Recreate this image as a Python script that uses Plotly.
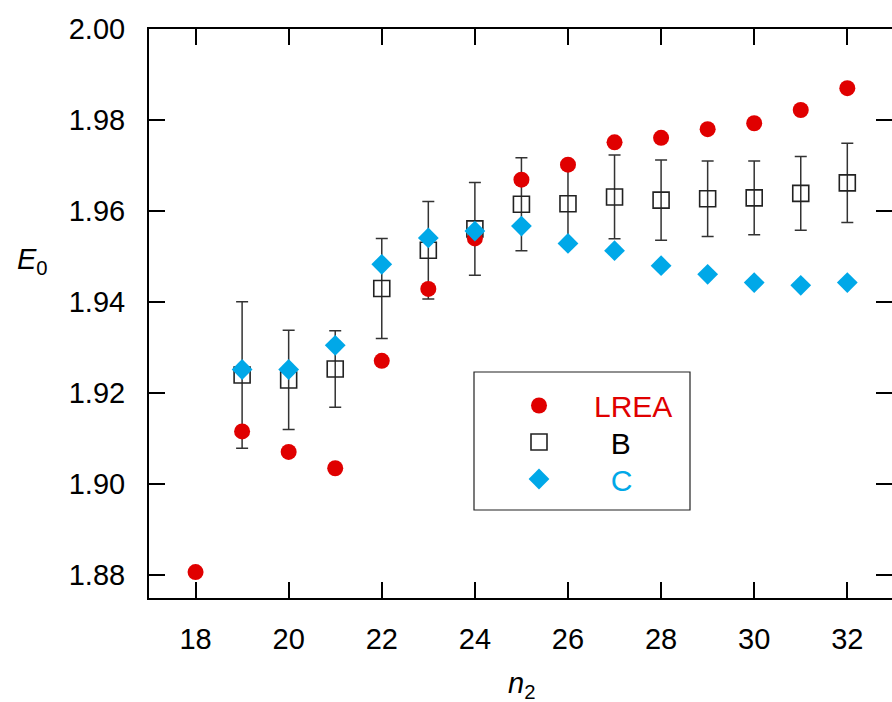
import plotly.graph_objects as go

n2 = list(range(18, 33))
lrea = [1.8807, 1.9116, 1.9071, 1.9035, 1.9271, 1.9429, 1.9540, 1.9669,
        1.9702, 1.9751, 1.9761, 1.9780, 1.9793, 1.9822, 1.9870]

n2_b = list(range(19, 33))
b_vals = [1.9240, 1.9229, 1.9253, 1.9430, 1.9514, 1.9561, 1.9615, 1.9616,
          1.9631, 1.9624, 1.9627, 1.9629, 1.9639, 1.9662]
b_err = [0.0161, 0.0109, 0.0084, 0.0110, 0.0107, 0.0102, 0.0102, 0.0088,
         0.0092, 0.0088, 0.0083, 0.0081, 0.0081, 0.0087]

n2_c = list(range(19, 33))
c_vals = [1.9252, 1.9252, 1.9305, 1.9483, 1.9541, 1.9556, 1.9567, 1.9529,
          1.9513, 1.9480, 1.9461, 1.9443, 1.9437, 1.9443]

x_ticks = [18, 20, 22, 24, 26, 28, 30, 32]
y_ticks = [1.88, 1.90, 1.92, 1.94, 1.96, 1.98, 2.00]
y_ticklabels = ["1.88", "1.90", "1.92", "1.94", "1.96", "1.98", "2.00"]

RED = "#E00000"
BLUE = "#00A8E8"
FONT = "Liberation Sans, Arial, sans-serif"

# plot area in pixels (for paper-coordinate conversions)
PL, PR, PT, PB = 149, 892, 29, 598
def px(xp):
    return (xp - PL) / (PR - PL)
def py(yp):
    return (PB - yp) / (PB - PT)

fig = go.Figure()
fig.add_trace(go.Scatter(
    x=n2_b, y=b_vals, mode="markers", name="&nbsp;&nbsp;<span style='color:#000000'>B</span>",
    legend="legend2",
    marker=dict(symbol="square-open", size=16, color="#222222", line=dict(width=1.6, color="#222222")),
    error_y=dict(type="data", array=b_err, visible=True, color="#333333", thickness=1.5, width=6),
))
fig.add_trace(go.Scatter(
    x=n2, y=lrea, mode="markers", name="<span style='color:%s'>LREA</span>" % RED,
    legend="legend",
    marker=dict(symbol="circle", size=16, color=RED),
))
fig.add_trace(go.Scatter(
    x=n2_c, y=c_vals, mode="markers", name="&nbsp;&nbsp;<span style='color:%s'>C</span>" % BLUE,
    legend="legend3",
    marker=dict(symbol="diamond", size=16, color=BLUE),
))
# invisible trace to host right-side ticks
fig.add_trace(go.Scatter(x=[n2[0]], y=[lrea[0]], yaxis="y2", mode="markers",
                         marker=dict(opacity=0), showlegend=False, hoverinfo="skip"))

def leg(row_y):
    return dict(
        x=px(484), y=py(row_y), xanchor="left", yanchor="middle",
        borderwidth=0, bgcolor="rgba(0,0,0,0)",
        font=dict(family=FONT, size=30), itemwidth=100,
    )

fig.update_layout(
    width=892, height=702,
    margin=dict(l=PL, r=0, t=PT, b=702 - PB),
    paper_bgcolor="white", plot_bgcolor="white",
    font=dict(family=FONT, size=29, color="black"),
    showlegend=True,
    legend=leg(405.5),
    legend2=leg(442),
    legend3=leg(479),
    xaxis=dict(
        range=[17, 32.96], tickvals=x_ticks, ticks="inside", ticklen=16, tickwidth=2,
        tickcolor="black", showline=True, linewidth=2, linecolor="black",
        mirror="ticks", showgrid=False, zeroline=False, ticklabelstandoff=14,
        tickfont=dict(size=29),
    ),
    yaxis=dict(
        range=[1.875, 2.00], tickvals=y_ticks, ticktext=y_ticklabels, ticks="inside",
        ticklen=16, tickwidth=2, tickcolor="black", showline=True, linewidth=2,
        linecolor="black", showgrid=False, zeroline=False, ticklabelstandoff=16,
        tickfont=dict(size=29),
    ),
    yaxis2=dict(
        overlaying="y", side="right", matches="y", range=[1.875, 2.00],
        tickvals=y_ticks, ticks="inside", ticklen=16, tickwidth=2, tickcolor="black",
        showline=False, showticklabels=False, showgrid=False, zeroline=False,
    ),
    shapes=[
        dict(type="rect", xref="paper", yref="paper",
             x0=px(474), x1=px(690), y0=py(510), y1=py(372),
             line=dict(color="#222222", width=1.2), fillcolor="rgba(0,0,0,0)", layer="below"),
    ],
    annotations=[
        dict(text="<i>E</i><sub>0</sub>", xref="paper", yref="paper",
             x=px(32), y=py(261), showarrow=False,
             font=dict(size=29), xanchor="center", yanchor="middle"),
        dict(text="<i>n</i><sub>2</sub>", xref="paper", yref="paper",
             x=px(521), y=py(685), showarrow=False,
             font=dict(size=29), xanchor="center", yanchor="middle"),
    ],
)

fig.write_html("out.html")
